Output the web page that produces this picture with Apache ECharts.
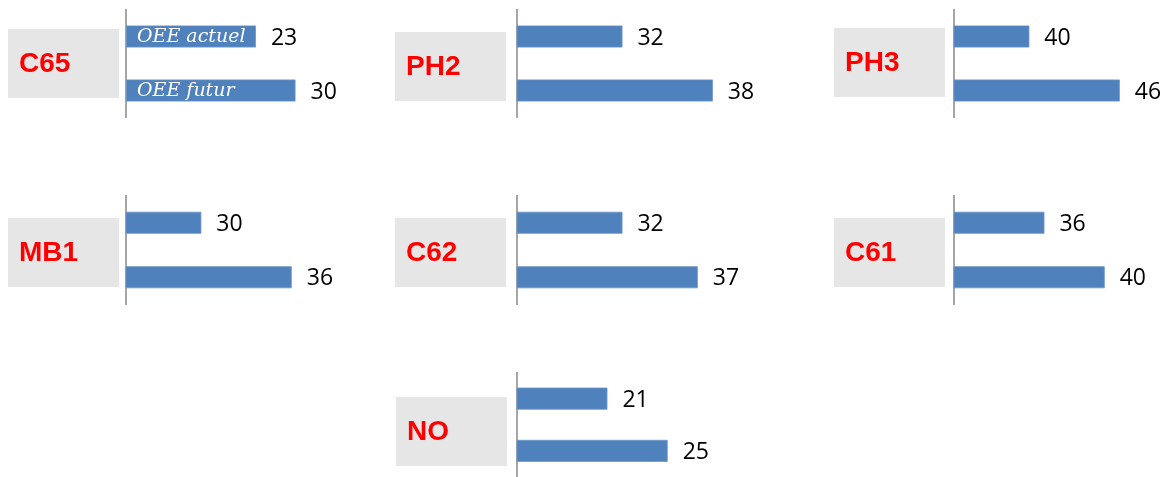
<!DOCTYPE html>
<html>
<head>
<meta charset="utf-8">
<script src="https://cdn.jsdelivr.net/npm/echarts@6/dist/echarts.min.js"></script>
<style>
  html, body { margin: 0; padding: 0; background: #ffffff; }
  #chart { width: 1166px; height: 477px; }
</style>
</head>
<body>
<div id="chart"></div>
<script>
// Lines, with their current and target OEE values
const panels = ['C65', 'PH2', 'PH3', 'MB1', 'C62', 'C61', 'NO'];
const categories = ['OEE actuel', 'OEE futur'];
const actuel = [23, 32, 40, 30, 32, 36, 21];
const futur = [30, 38, 46, 36, 37, 40, 25];
// Value-axis ranges of each small panel (right-hand column is cut at the page edge)
const axisMin = [0, 25, 35, 25, 25, 30, 15];
const axisMax = [40, 40, 49, 40, 40, 44, 30];

// Panel placement: plot area (left, top, width, height) and name box (x, y)
const layout = [
  { left: 126, top: 9.5, width: 226, height: 108, bx: 8, by: 29 },
  { left: 517, top: 9.5, width: 226, height: 108, bx: 395, by: 32 },
  { left: 954, top: 9.5, width: 211, height: 108, bx: 834, by: 28 },
  { left: 126, top: 195.5, width: 226, height: 109, bx: 8, by: 218 },
  { left: 517, top: 195.5, width: 226, height: 109, bx: 395, by: 218 },
  { left: 954, top: 195.5, width: 211, height: 109, bx: 834, by: 218 },
  { left: 517, top: 372.5, width: 226, height: 109, bx: 396, by: 397 }
];
const BOX_W = 111, BOX_H = 69;
const BAR_BLUE = '#4f81bd';

const grid = [], xAxis = [], yAxis = [], series = [], graphic = [];

panels.forEach((name, i) => {
  const L = layout[i];
  grid.push({ left: L.left, top: L.top, width: L.width, height: L.height });
  xAxis.push({
    gridIndex: i, type: 'value', min: axisMin[i], max: axisMax[i],
    show: false, splitLine: { show: false }
  });
  yAxis.push({
    gridIndex: i, type: 'category', data: categories, inverse: true,
    axisLine: { show: true, lineStyle: { color: '#888888', width: 1.5 } },
    axisTick: { show: false }, axisLabel: { show: false }, splitLine: { show: false }
  });
  series.push({
    type: 'bar', xAxisIndex: i, yAxisIndex: i,
    data: [actuel[i], futur[i]],
    barWidth: 22,
    itemStyle: { color: BAR_BLUE, borderColor: '#6b95c8', borderWidth: 0.8 },
    label: {
      show: true, position: 'right', distance: 15, offset: [0, 1.5],
      fontFamily: 'Open Sans', fontSize: 23, color: '#000000'
    },
    silent: true, animation: false
  });
  if (i === 0) {
    // category names written inside the first panel's bars
    series.push({
      type: 'bar', xAxisIndex: i, yAxisIndex: i,
      data: [actuel[i], futur[i]],
      barWidth: 22, barGap: '-100%', z: 3,
      itemStyle: { color: 'rgba(0,0,0,0)' },
      label: {
        show: true, position: 'insideLeft', distance: 11, offset: [0, 1],
        formatter: '{b}',
        fontFamily: 'DejaVu Serif', fontStyle: 'italic', fontSize: 19, color: '#ffffff'
      },
      silent: true, animation: false
    });
  }
  graphic.push({
    type: 'group', left: L.bx, top: L.by,
    children: [
      { type: 'rect', shape: { x: 0, y: 0, width: BOX_W, height: BOX_H }, style: { fill: '#e6e6e6' } },
      {
        type: 'text', x: 11, y: BOX_H / 2 + 1,
        style: {
          text: name, fill: '#ff0000', fontFamily: 'Liberation Sans', fontWeight: 'bold',
          fontSize: 28, verticalAlign: 'middle', align: 'left'
        }
      }
    ]
  });
});

const chart = echarts.init(document.getElementById('chart'), null, { renderer: 'canvas' });
chart.setOption({
  animation: false,
  backgroundColor: '#ffffff',
  grid, xAxis, yAxis, series, graphic
});
</script>
</body>
</html>
